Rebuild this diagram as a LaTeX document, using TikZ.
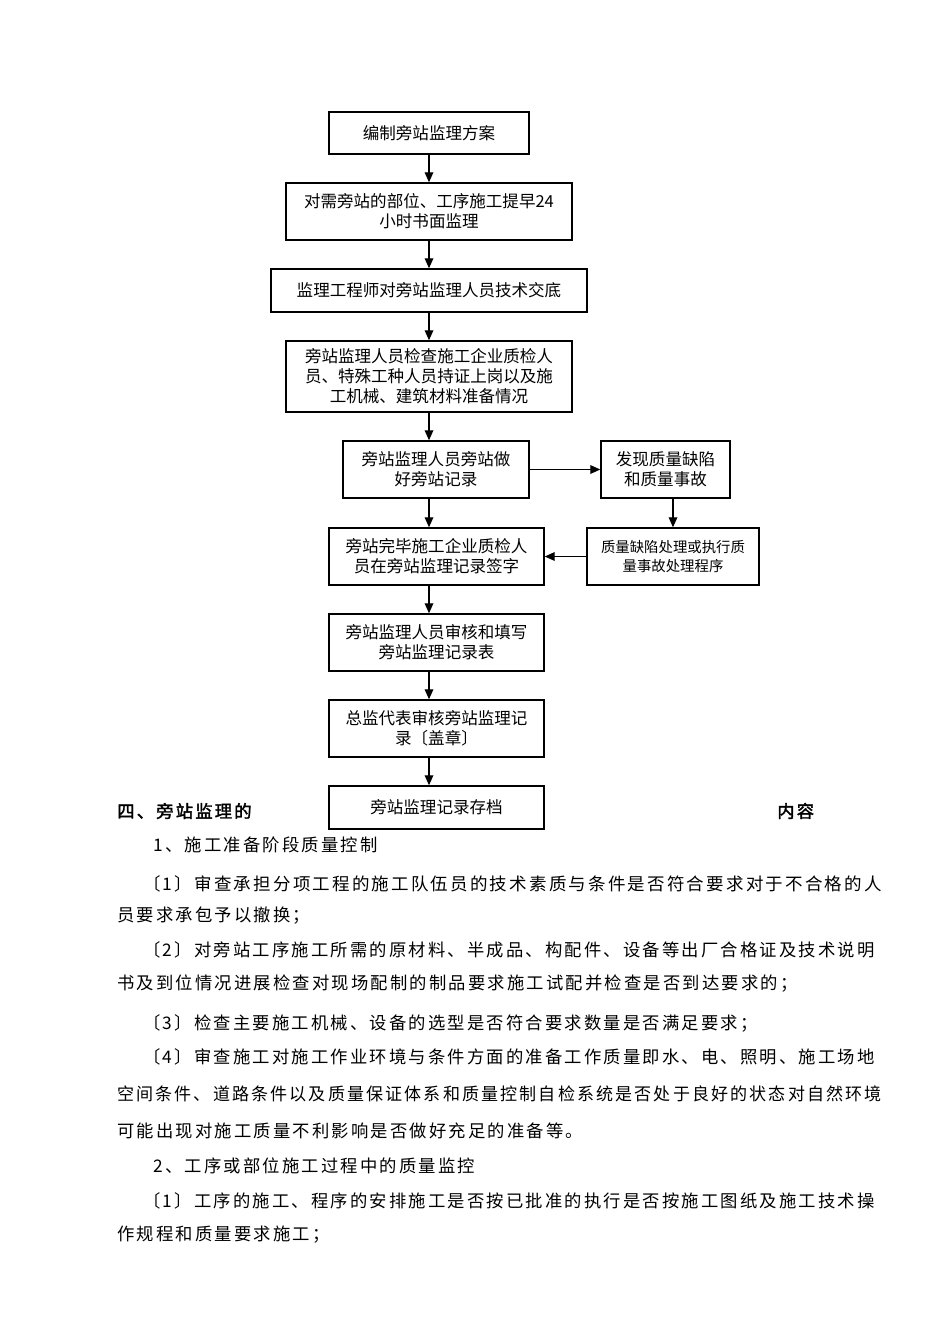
\documentclass[tikz,border=0pt]{standalone}
\usepackage{graphicx}
\usepackage{fontspec}
\setmainfont{Noto Sans CJK SC}[AutoFakeBold=2]
\newfontfamily\bodyf{Noto Sans CJK SC}[LetterSpace=12.5,AutoFakeBold=2]
\usetikzlibrary{arrows.meta}
\begin{document}
\begin{tikzpicture}[x=0.75pt,y=-0.75pt,
  box/.style={draw,line width=1.1pt,inner sep=0pt,align=center,font=\fontsize{12.4}{15}\selectfont},
  sbox/.style={box,font=\fontsize{10.8}{14.25}\selectfont},
  arr/.style={-{Triangle[length=7.5pt,width=6.5pt]},line width=0.9pt},
  body/.style={anchor=west,inner sep=0pt,font=\fontsize{13}{15}\bodyf},
  head/.style={anchor=west,inner sep=0pt,font=\fontsize{13}{15}\bodyf\bfseries}]
\fill[white] (0,0) rectangle (950,1344);
\useasboundingbox (0,0) rectangle (950,1344);
\coordinate (cx) at (429,0);
\node[box,minimum width=150pt,minimum height=31.5pt] (b1) at (429,133) {编制旁站监理方案};
\node[box,minimum width=214.5pt,minimum height=42.75pt] (b2) at (429,211.5) {对需旁站的部位、工序施工提早24\\小时书面监理};
\node[box,minimum width=237pt,minimum height=32.25pt] (b3) at (429,290.5) {监理工程师对旁站监理人员技术交底};
\node[box,minimum width=214.5pt,minimum height=53.25pt] (b4) at (429,376.5) {旁站监理人员检查施工企业质检人\\员、特殊工种人员持证上岗以及施\\工机械、建筑材料准备情况};
\node[box,minimum width=139.5pt,minimum height=42.75pt] (b5) at (436,469.5) {旁站监理人员旁站做\\好旁站记录};
\node[box,minimum width=96.75pt,minimum height=42.75pt] (b6) at (665.5,469.5) {发现质量缺陷\\和质量事故};
\node[box,minimum width=161.25pt,minimum height=42.75pt] (b7) at (436.5,556.5) {旁站完毕施工企业质检人\\员在旁站监理记录签字};
\node[sbox,minimum width=129pt,minimum height=42.75pt] (b8) at (673,556.5) {质量缺陷处理或执行质\\量事故处理程序};
\node[box,minimum width=161.25pt,minimum height=42.75pt] (b9) at (436.5,642.5) {旁站监理人员审核和填写\\旁站监理记录表};
\node[box,minimum width=161.25pt,minimum height=42.75pt] (b10) at (436.5,728.5) {总监代表审核旁站监理记\\录〔盖章〕};
\node[box,minimum width=161.25pt,minimum height=32.25pt] (b11) at (436.5,807.5) {旁站监理记录存档};
\draw[arr] (b1.south -| cx) -- (b2.north -| cx);
\draw[arr] (b2.south -| cx) -- (b3.north -| cx);
\draw[arr] (b3.south -| cx) -- (b4.north -| cx);
\draw[arr] (b4.south -| cx) -- (b5.north -| cx);
\draw[arr] (b5.south -| cx) -- (b7.north -| cx);
\draw[arr] (b7.south -| cx) -- (b9.north -| cx);
\draw[arr] (b9.south -| cx) -- (b10.north -| cx);
\draw[arr] (b10.south -| cx) -- (b11.north -| cx);
\draw[arr] (b5.east) -- (b6.west);
\draw[arr] (b6.south -| b8) -- (b8.north);
\draw[arr] (b8.west) -- (b7.east);
\node[head] (h1) at (117,811) {四、旁站监理的};
\node[head] (h2) at (777,811) {内容};
\node[body] (t1) at (153,845) {1、施工准备阶段质量控制};
\node[body] (t2) at (143,884) {\scalebox{1.01}[1]{〔1〕审查承担分项工程的施工队伍员的技术素质与条件是否符合要求对于不合格的人}};
\node[body] (t3) at (117,916) {员要求承包予以撤换；};
\node[body] (t4) at (143,950) {〔2〕对旁站工序施工所需的原材料、半成品、构配件、设备等出厂合格证及技术说明};
\node[body] (t5) at (117,984) {书及到位情况进展检查对现场配制的制品要求施工试配并检查是否到达要求的；};
\node[body] (t6) at (143,1023) {〔3〕检查主要施工机械、设备的选型是否符合要求数量是否满足要求；};
\node[body] (t7) at (143,1057) {〔4〕审查施工对施工作业环境与条件方面的准备工作质量即水、电、照明、施工场地};
\node[body] (t8) at (117,1094) {\scalebox{0.983}[1]{空间条件、道路条件以及质量保证体系和质量控制自检系统是否处于良好的状态对自然环境}};
\node[body] (t9) at (117,1131) {可能出现对施工质量不利影响是否做好充足的准备等。};
\node[body] (t10) at (153,1166) {2、工序或部位施工过程中的质量监控};
\node[body] (t11) at (143,1201) {〔1〕工序的施工、程序的安排施工是否按已批准的执行是否按施工图纸及施工技术操};
\node[body] (t12) at (117,1235) {作规程和质量要求施工；};
\end{tikzpicture}
\end{document}
